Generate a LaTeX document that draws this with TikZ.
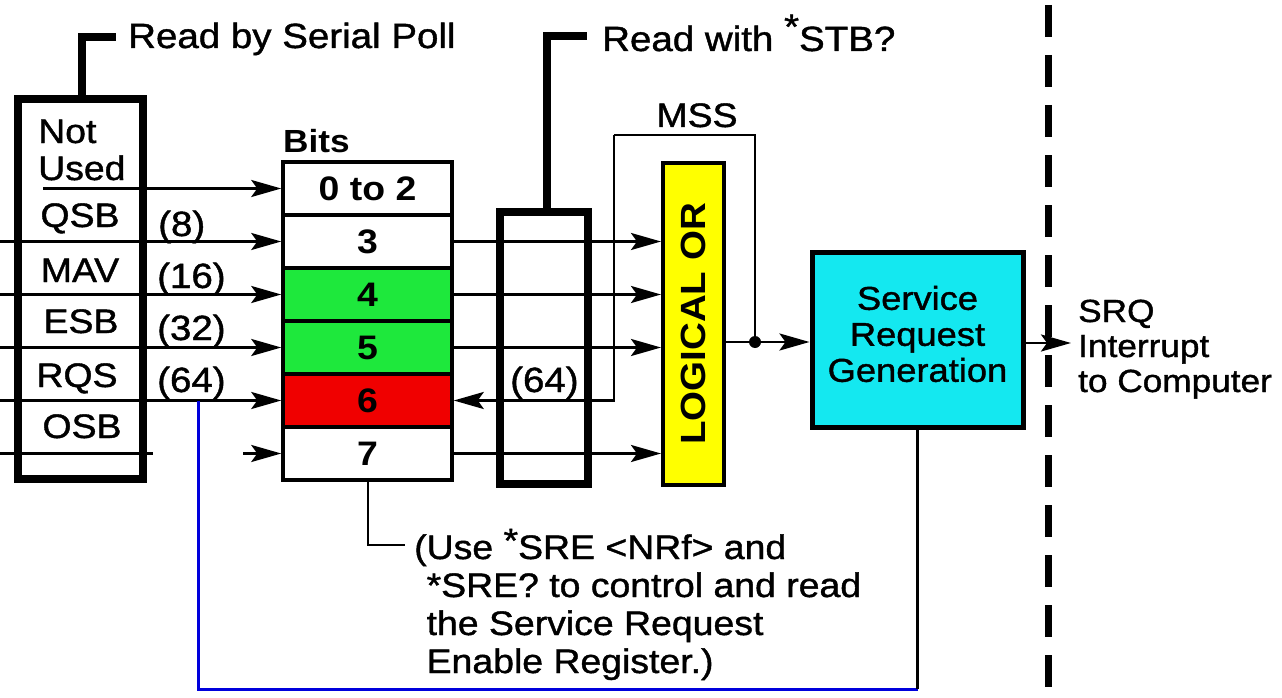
\documentclass[tikz,border=0pt]{standalone}
\usepackage{fontspec}
\setmainfont{Liberation Sans}[FakeStretch=1.1, UprightFeatures={FakeBold=1.2}]
\usetikzlibrary{arrows.meta}
\definecolor{bitgreen}{RGB}{30,232,60}
\definecolor{bitred}{RGB}{240,0,0}
\definecolor{oryellow}{RGB}{255,255,0}
\definecolor{srgcyan}{RGB}{20,232,240}
\definecolor{tapblue}{RGB}{0,0,220}
\newcommand\fs[1]{\fontsize{#1}{#1}\selectfont}
\begin{document}
\begin{tikzpicture}[x=1pt,y=-1pt,
  sig/.style={line width=2.8pt, -{Stealth[length=30pt,width=17pt,inset=6pt]}},
  wire/.style={line width=2.8pt},
  reg/.style={draw, line width=8.5pt, inner sep=0pt, line join=miter},
  bracket/.style={line width=8pt, line join=miter},
  bitrow/.style={draw, line width=3.5pt, minimum width=169pt, minimum height=53pt, inner sep=0pt, font=\fs{34}\bfseries},
  txt/.style={inner sep=0pt, font=\fs{34}},
  wt/.style={inner sep=0pt, font=\fs{35}}]
\useasboundingbox (0,0) rectangle (1282,698);

% registers
\node[reg, minimum width=125pt, minimum height=380pt] (sp) at (80.5,289) {};
\node[reg, minimum width=88pt, minimum height=272pt] (stb) at (544,348) {};

% bits
\node[bitrow] (r02) at (367.5,188.5) {0 to 2};
\node[bitrow] (r3) at (367.5,241.5) {3};
\node[bitrow, fill=bitgreen] (r4) at (367.5,294.5) {4};
\node[bitrow, fill=bitgreen] (r5) at (367.5,347.5) {5};
\node[bitrow, fill=bitred] (r6) at (367.5,400.5) {6};
\node[bitrow] (r7) at (367.5,453.5) {7};
\node[txt, font=\fs{32}\bfseries, anchor=base west] (bits) at (283,153) {Bits};

% logical or
\node[draw, line width=4pt, fill=oryellow, minimum width=61pt, minimum height=322pt, inner sep=0pt] (or) at (693.5,324) {};
\node[txt, font=\fs{35}\bfseries, rotate=90] (ortext) at (or.center) {LOGICAL OR};

% service request generation
\node[draw, line width=5pt, fill=srgcyan, minimum width=211pt, minimum height=175pt, inner sep=0pt] (srg) at (917.5,339.5) {};
\node[inner sep=0pt, align=center, font={\fontsize{33}{36}\selectfont}] (srgtext) at ([yshift=5.5pt]srg.center) {Service\\Request\\Generation};

% left register labels
\node[txt, anchor=base west] (lnot) at (38,143) {Not};
\node[txt, anchor=base west] (lused) at (38,180) {Used};
\node[txt, anchor=base] (lqsb) at (80,227) {QSB};
\node[txt, anchor=base] (lmav) at (80,282) {MAV};
\node[txt, anchor=base] (lesb) at (81,333) {ESB};
\node[txt, anchor=base] (lrqs) at (77,387) {RQS};
\node[txt, anchor=base] (losb) at (82,438) {OSB};

\node[wt, anchor=base west] (w8) at (158,236) {(8)};
\node[wt, anchor=base west] (w16) at (157,288) {(16)};
\node[wt, anchor=base west] (w32) at (157,340) {(32)};
\node[wt, anchor=base west] (w64) at (157,392) {(64)};
\node[wt, anchor=base west] (w64b) at (510,392) {(64)};

% top labels
\node[txt, font=\fs{35}, anchor=base west] (tsp) at (128,48) {Read by Serial Poll};
\node[txt, font=\fs{35}, anchor=base west] (tstb) at (602,51) {Read with \raisebox{0.35em}{*}STB?};
\node[txt, anchor=base] (mss) at (697,127) {MSS};

% SRQ
\node[txt, font=\fs{32}, anchor=base west] (srq1) at (1078,322) {SRQ};
\node[txt, font=\fs{32}, anchor=base west] (srq2) at (1078,357) {Interrupt};
\node[txt, font=\fs{32}, anchor=base west] (srq3) at (1078,392) {to Computer};

% note
\node[txt, anchor=base west] (n1) at (414,559) {(Use \raisebox{0.2em}{*}SRE <NRf> and};
\node[txt, anchor=base west] (n2) at (414,597) {\phantom{(}*SRE? to control and read};
\node[txt, anchor=base west] (n3) at (414,635) {\phantom{(}the Service Request};
\node[txt, anchor=base west] (n4) at (414,673) {\phantom{(}Enable Register.)};

% brackets
\coordinate (bsp) at (116,37);
\coordinate (bstb) at (587,36);
\draw[bracket] ([xshift=1.5pt]sp.north) |- (bsp);
\draw[bracket] ([xshift=3pt]stb.north) |- (bstb);

% inputs
\coordinate (a02) at (43,188.5);
\coordinate (a3) at (0,241.5);
\coordinate (a4) at (0,294.5);
\coordinate (a5) at (0,347.5);
\coordinate (a6) at (0,400.5);
\coordinate (a7) at (0,453.5);
\coordinate (a7e) at (153,453.5);
\coordinate (a7s) at (243,453.5);
\draw[sig] (a02) -- (r02.west);
\draw[sig] (a3) -- (r3.west);
\draw[sig] (a4) -- (r4.west);
\draw[sig] (a5) -- (r5.west);
\draw[sig] (a6) -- (r6.west);
\draw[wire] (a7) -- (a7e);
\draw[sig] (a7s) -- (r7.west);

% to logical or
\draw[sig] (r3.east) -- (r3.east -| or.west);
\draw[sig] (r4.east) -- (r4.east -| or.west);
\draw[sig] (r5.east) -- (r5.east -| or.west);
\draw[sig] (r7.east) -- (r7.east -| or.west);

% or output and MSS loop
\coordinate (dot) at (755,342);
\coordinate (mA) at (614,135);
\draw[sig] (or.east |- dot) -- (srg.west |- dot);
\draw[wire] (dot) |- (mA);
\draw[sig] (mA) -- (mA |- r6.east) -- (r6.east);
\fill (dot) circle[radius=6pt];

% SRQ output
\coordinate (srqe) at (1071,343);
\draw[sig] (srg.east |- srqe) -- (srqe);

% note connector
\coordinate (nc) at (405,545);
\draw[line width=2pt] (r7.south) |- (nc);

% blue feedback
\coordinate (tap) at (198,400.5);
\coordinate (bl) at (198,689);
\draw[tapblue, line width=3pt] (tap) -- (bl) -- (bl -| srg.south);
\draw[wire] (bl -| srg.south) -- (srg.south);

% interface boundary
\coordinate (d1) at (1048,5);
\coordinate (d2) at (1048,698);
\draw[line width=7pt, dash pattern=on 32pt off 18pt] (d1) -- (d2);
\end{tikzpicture}
\end{document}
